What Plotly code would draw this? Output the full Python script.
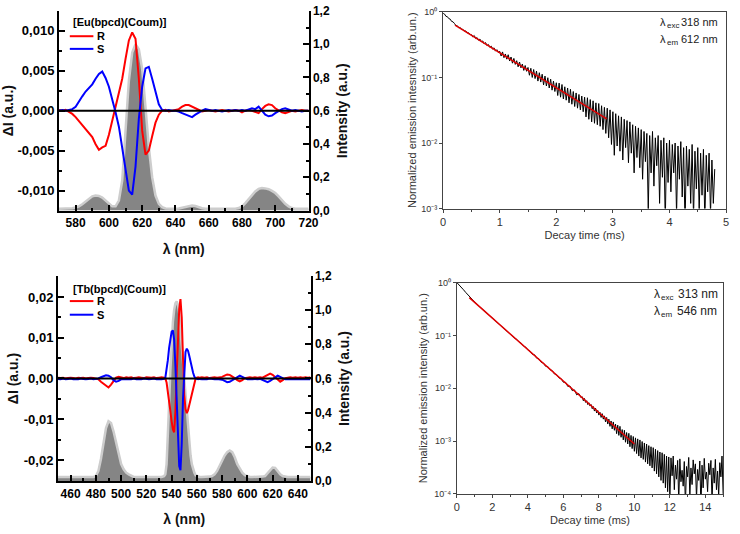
import plotly.graph_objects as go

# ---------------- Eu CPL / emission (top-left) ----------------
eu_wl = list(range(570, 722, 2))
eu_R = [0.0001, 0.0000, 0.0001, -0.0001, -0.0004, -0.0008, -0.0013, -0.0018, -0.0023, -0.0028,
        -0.0033, -0.0042, -0.0049, -0.0046, -0.0044, -0.0030, -0.0012, 0.0004, 0.0022, 0.0040,
        0.0065, 0.0088, 0.0098, 0.0090, 0.0040, -0.0025, -0.0055, -0.0050, -0.0032, -0.0015,
        -0.0005, 0.0000, 0.0001, -0.0001, 0.0000, 0.0001, 0.0002, 0.0005, 0.0007, 0.0007,
        0.0005, 0.0003, 0.0000, -0.0001, 0.0000, 0.0001, 0.0000, -0.0001, 0.0000, 0.0001,
        0.0000, -0.0001, 0.0000, 0.0001, 0.0000, -0.0002, 0.0000, 0.0001, 0.0000, -0.0002,
        -0.0003, 0.0002, 0.0006, 0.0008, 0.0007, 0.0003, 0.0000, -0.0002, -0.0003, -0.0001,
        0.0000, -0.0001, 0.0000, 0.0001, 0.0000, 0.0000]
eu_S = [0.0000, 0.0001, 0.0000, 0.0001, 0.0002, 0.0005, 0.0012, 0.0018, 0.0024, 0.0029,
        0.0033, 0.0040, 0.0046, 0.0049, 0.0041, 0.0030, 0.0015, -0.0002, -0.0020, -0.0045,
        -0.0075, -0.0100, -0.0105, -0.0070, -0.0010, 0.0030, 0.0053, 0.0055, 0.0040, 0.0022,
        0.0008, 0.0001, 0.0000, 0.0001, 0.0000, 0.0000, -0.0001, -0.0003, -0.0005, -0.0006,
        -0.0008, -0.0005, -0.0002, 0.0000, 0.0002, 0.0001, 0.0000, 0.0001, 0.0000, -0.0001,
        0.0000, 0.0001, 0.0000, 0.0001, 0.0000, 0.0001, 0.0000, 0.0002, 0.0003, 0.0002,
        0.0005, 0.0000, -0.0005, -0.0007, -0.0006, -0.0003, 0.0000, 0.0002, 0.0003, 0.0001,
        0.0000, 0.0001, 0.0000, -0.0001, 0.0000, 0.0000]
eu_em = [0.01, 0.01, 0.01, 0.012, 0.014, 0.018, 0.025, 0.038, 0.055, 0.072,
         0.085, 0.09, 0.088, 0.078, 0.06, 0.04, 0.025, 0.025, 0.06, 0.18,
         0.45, 0.78, 0.95, 1.0, 0.97, 0.85, 0.62, 0.38, 0.2, 0.09,
         0.04, 0.02, 0.012, 0.01, 0.01, 0.01, 0.012, 0.016, 0.022, 0.027,
         0.03, 0.027, 0.02, 0.014, 0.011, 0.01, 0.01, 0.01, 0.01, 0.01,
         0.01, 0.01, 0.01, 0.011, 0.015, 0.025, 0.045, 0.07, 0.095, 0.115,
         0.13, 0.135, 0.133, 0.128, 0.118, 0.105, 0.085, 0.06, 0.04, 0.025,
         0.015, 0.011, 0.01, 0.01, 0.01, 0.01]

# ---------------- Tb CPL / emission (bottom-left) ----------------
tb_wl = list(range(450, 534, 2)) + list(range(534, 563)) + list(range(564, 652, 2))
tb_R = ([0.0002, 0.0001, 0.0002, 0.0000, 0.0001, 0.0002, 0.0001, 0.0000, 0.0002, 0.0001,
         0.0002, 0.0000, 0.0001, 0.0002, 0.0001, 0.0000,
         -0.0002, -0.0008, -0.0012, -0.0018, -0.0022, -0.0015, -0.0005, 0.0002, 0.0004, 0.0002,
         0.0001, 0.0003,
         0.0002, 0.0003, 0.0001, 0.0002, 0.0003, 0.0002, 0.0001, 0.0003, 0.0002, 0.0002,
         0.0003, 0.0001, 0.0002, 0.0003]
        + [0.0002, 0.0000, -0.0010, -0.0030, -0.0055, -0.0080, -0.0105, -0.0125, -0.0132, -0.0080,
           0.0010, 0.0100, 0.0170, 0.0195, 0.0150, 0.0050, -0.0040, -0.0075, -0.0085, -0.0078,
           -0.0065, -0.0050, -0.0035, -0.0020, -0.0008, 0.0000, 0.0002, 0.0003, 0.0002]
        + [0.0003, 0.0002, 0.0003, 0.0001, 0.0002, 0.0003, 0.0002, 0.0003, 0.0004, 0.0007,
           0.0010, 0.0009, 0.0006, 0.0001, -0.0004, -0.0007, -0.0004, 0.0001, 0.0002, 0.0003,
           0.0002, 0.0003, 0.0002, 0.0003, 0.0002, 0.0005, 0.0010, 0.0012, 0.0009, 0.0003,
           -0.0003, -0.0008, -0.0004, 0.0001, 0.0002, 0.0003, 0.0002, 0.0003, 0.0002, 0.0003,
           0.0002, 0.0003, 0.0002, 0.0003])
tb_S = ([-0.0001, -0.0002, 0.0000, -0.0002, -0.0001, 0.0000, -0.0002, -0.0001, -0.0002, 0.0000,
         -0.0001, -0.0002, -0.0001, 0.0000, -0.0002, -0.0001,
         0.0000, 0.0003, 0.0006, 0.0008, 0.0007, 0.0003, -0.0004, -0.0008, -0.0006, -0.0002,
         -0.0001, -0.0002,
         -0.0001, -0.0002, 0.0000, -0.0002, -0.0001, -0.0002, 0.0000, -0.0001, -0.0002, -0.0001,
         0.0000, -0.0002, -0.0001, -0.0002]
        + [-0.0001, 0.0002, 0.0020, 0.0045, 0.0075, 0.0100, 0.0115, 0.0118, 0.0095, 0.0030,
           -0.0060, -0.0150, -0.0215, -0.0225, -0.0160, -0.0050, 0.0030, 0.0065, 0.0073, 0.0068,
           0.0055, 0.0040, 0.0026, 0.0014, 0.0005, 0.0000, -0.0001, -0.0002, -0.0001]
        + [-0.0002, -0.0001, -0.0002, 0.0000, -0.0001, -0.0002, -0.0001, -0.0002, -0.0003, -0.0006,
           -0.0009, -0.0008, -0.0004, 0.0001, 0.0005, 0.0007, 0.0004, 0.0000, -0.0002, -0.0001,
           -0.0002, -0.0001, -0.0002, -0.0001, -0.0004, -0.0008, -0.0009, -0.0006, -0.0002, 0.0003,
           0.0007, 0.0004, 0.0000, -0.0002, -0.0001, -0.0002, -0.0001, -0.0002, -0.0001, -0.0002,
           -0.0001, -0.0002, -0.0001, -0.0002])
tb_em = ([0.025, 0.025, 0.025, 0.025, 0.025, 0.025, 0.025, 0.025, 0.025, 0.025,
          0.025, 0.025, 0.025, 0.025, 0.025, 0.03,
          0.06, 0.13, 0.22, 0.31, 0.35, 0.34, 0.29, 0.22, 0.15, 0.10,
          0.07, 0.05, 0.04, 0.03, 0.025,
          0.025, 0.025, 0.025, 0.025, 0.025, 0.025, 0.025, 0.025, 0.025, 0.025, 0.025]
         + [0.03, 0.04, 0.10, 0.25, 0.45, 0.65, 0.82, 0.93, 1.00, 1.04,
            1.05, 1.03, 0.98, 0.90, 0.80, 0.70, 0.60, 0.50, 0.40, 0.30,
            0.22, 0.15, 0.10, 0.07, 0.05, 0.035, 0.03, 0.028, 0.025]
         + [0.025, 0.025, 0.025, 0.027, 0.03, 0.04, 0.06, 0.09, 0.12, 0.15,
            0.17, 0.18, 0.17, 0.14, 0.10, 0.07, 0.05, 0.035, 0.028, 0.025,
            0.025, 0.025, 0.025, 0.025, 0.027, 0.03, 0.045, 0.065, 0.08, 0.078,
            0.06, 0.04, 0.03, 0.026, 0.025, 0.025, 0.025, 0.025, 0.025, 0.025,
            0.025, 0.025, 0.025, 0.025])

# ---------------- Eu decay (top-right) ----------------
eu_t = [0.000, 0.025, 0.050, 0.075, 0.100, 0.125, 0.150, 0.175,
        0.200, 0.225, 0.250, 0.275, 0.300, 0.325, 0.350, 0.375,
        0.400, 0.425, 0.450, 0.475, 0.500, 0.525, 0.550, 0.575,
        0.600, 0.625, 0.650, 0.675, 0.700, 0.725, 0.750, 0.775,
        0.800, 0.825, 0.850, 0.875, 0.900, 0.925, 0.950, 0.975,
        1.000, 1.025, 1.050, 1.075, 1.100, 1.125, 1.150, 1.175,
        1.200, 1.225, 1.250, 1.275, 1.300, 1.325, 1.350, 1.375,
        1.400, 1.425, 1.450, 1.475, 1.500, 1.525, 1.550, 1.575,
        1.600, 1.625, 1.650, 1.675, 1.700, 1.725, 1.750, 1.775,
        1.800, 1.825, 1.850, 1.875, 1.900, 1.925, 1.950, 1.975,
        2.000, 2.025, 2.050, 2.075, 2.100, 2.125, 2.150, 2.175,
        2.200, 2.225, 2.250, 2.275, 2.300, 2.325, 2.350, 2.375,
        2.400, 2.425, 2.450, 2.475, 2.500, 2.525, 2.550, 2.575,
        2.600, 2.625, 2.650, 2.675, 2.700, 2.725, 2.750, 2.775,
        2.800, 2.825, 2.850, 2.875, 2.900, 2.925, 2.950, 2.975,
        3.000, 3.025, 3.050, 3.075, 3.100, 3.125, 3.150, 3.175,
        3.200, 3.225, 3.250, 3.275, 3.300, 3.325, 3.350, 3.375,
        3.400, 3.425, 3.450, 3.475, 3.500, 3.525, 3.550, 3.575,
        3.600, 3.625, 3.650, 3.675, 3.700, 3.725, 3.750, 3.775,
        3.800, 3.825, 3.850, 3.875, 3.900, 3.925, 3.950, 3.975,
        4.000, 4.025, 4.050, 4.075, 4.100, 4.125, 4.150, 4.175,
        4.200, 4.225, 4.250, 4.275, 4.300, 4.325, 4.350, 4.375,
        4.400, 4.425, 4.450, 4.475, 4.500, 4.525, 4.550, 4.575,
        4.600, 4.625, 4.650, 4.675, 4.700, 4.725, 4.750, 4.775,
        4.800]
eu_decay = [0.95, 0.925, 0.855, 0.845, 0.79, 0.775, 0.715, 0.705,
            0.665, 0.62, 0.615, 0.575, 0.58, 0.54, 0.542, 0.51,
            0.512, 0.478, 0.48, 0.452, 0.45, 0.415, 0.435, 0.392,
            0.405, 0.37, 0.385, 0.35, 0.36, 0.325, 0.34, 0.305,
            0.318, 0.288, 0.30, 0.27, 0.283, 0.252, 0.265, 0.24,
            0.25, 0.212, 0.245, 0.200, 0.228, 0.19, 0.222, 0.178,
            0.205, 0.165, 0.195, 0.158, 0.18, 0.145, 0.172, 0.140,
            0.16, 0.128, 0.152, 0.124, 0.142, 0.108, 0.138, 0.100,
            0.132, 0.096, 0.125, 0.088, 0.118, 0.085, 0.112, 0.077,
            0.105, 0.074, 0.099, 0.069, 0.094, 0.064, 0.088, 0.061,
            0.083, 0.053, 0.082, 0.050, 0.078, 0.047, 0.072, 0.045,
            0.069, 0.041, 0.066, 0.039, 0.061, 0.036, 0.058, 0.034,
            0.055, 0.032, 0.052, 0.030, 0.050, 0.025, 0.049, 0.023,
            0.046, 0.021, 0.044, 0.020, 0.041, 0.019, 0.040, 0.018,
            0.037, 0.016, 0.035, 0.014, 0.034, 0.012, 0.032, 0.0095,
            0.030, 0.0065, 0.028, 0.009, 0.026, 0.0075, 0.025, 0.0055,
            0.023, 0.0085, 0.022, 0.005, 0.021, 0.007, 0.019, 0.0035,
            0.018, 0.006, 0.017, 0.0042, 0.016, 0.0028, 0.015, 0.0052,
            0.014, 0.0009, 0.013, 0.0035, 0.015, 0.0022, 0.012, 0.0045,
            0.013, 0.0012, 0.011, 0.003, 0.012, 0.0006, 0.010, 0.0025,
            0.011, 0.0018, 0.0095, 0.0035, 0.010, 0.0008, 0.009, 0.0028,
            0.0105, 0.0015, 0.0085, 0.0005, 0.009, 0.0022, 0.008, 0.0012,
            0.0095, 0.0007, 0.0075, 0.002, 0.0085, 0.0009, 0.007, 0.0016,
            0.008, 0.0006, 0.0065, 0.0018, 0.007, 0.0008, 0.0055, 0.0012,
            0.004]
eu_fit_t = [0.21, 2.89]
eu_fit = [0.63, 0.0233]

# ---------------- Tb decay (bottom-right) ----------------
tb_t = [0.000, 0.125, 0.250, 0.375, 0.500, 0.625, 0.750, 0.875, 1.000, 1.125,
        1.250, 1.375, 1.500, 1.625, 1.750, 1.875, 2.000, 2.125, 2.250, 2.375,
        2.500, 2.625, 2.750, 2.875, 3.000, 3.125, 3.250, 3.375, 3.500, 3.625,
        3.750, 3.875, 4.000, 4.125, 4.250, 4.375, 4.500, 4.625, 4.750, 4.875,
        5.000, 5.125, 5.250, 5.375, 5.500, 5.625, 5.750, 5.875, 6.000, 6.125,
        6.250, 6.375, 6.500, 6.625, 6.750, 6.875, 7.000,
        7.0625, 7.125, 7.1875, 7.25, 7.3125, 7.375, 7.4375, 7.5,
        7.5625, 7.625, 7.6875, 7.75, 7.8125, 7.875, 7.9375, 8.0,
        8.0625, 8.125, 8.1875, 8.25, 8.3125, 8.375, 8.4375, 8.5,
        8.5625, 8.625, 8.6875, 8.75, 8.8125, 8.875, 8.9375, 9.0,
        9.0625, 9.125, 9.1875, 9.25, 9.3125, 9.375, 9.4375, 9.5,
        9.5625, 9.625, 9.6875, 9.75, 9.8125, 9.875, 9.9375, 10.0,
        10.0625, 10.125, 10.1875, 10.25, 10.3125, 10.375, 10.4375, 10.5,
        10.5625, 10.625, 10.6875, 10.75, 10.8125, 10.875, 10.9375, 11.0,
        11.0625, 11.125, 11.1875, 11.25, 11.3125, 11.375, 11.4375, 11.5,
        11.5625, 11.625, 11.6875, 11.75, 11.8125, 11.875, 11.9375, 12.0,
        12.0625, 12.125, 12.1875, 12.25, 12.3125, 12.375, 12.4375, 12.5,
        12.5625, 12.625, 12.6875, 12.75, 12.8125, 12.875, 12.9375, 13.0,
        13.0625, 13.125, 13.1875, 13.25, 13.3125, 13.375, 13.4375, 13.5,
        13.5625, 13.625, 13.6875, 13.75, 13.8125, 13.875, 13.9375, 14.0,
        14.0625, 14.125, 14.1875, 14.25, 14.3125, 14.375, 14.4375, 14.5,
        14.5625, 14.625, 14.6875, 14.75, 14.8125, 14.875, 14.9375, 15.0]
tb_decay = [1.0, 0.91, 0.82, 0.73, 0.65, 0.58, 0.52, 0.47, 0.43, 0.39,
            0.357, 0.327, 0.300, 0.276, 0.252, 0.233, 0.212, 0.196, 0.178, 0.165,
            0.150, 0.139, 0.126, 0.118, 0.106, 0.099, 0.089, 0.084, 0.075, 0.071,
            0.063, 0.060, 0.053, 0.050, 0.044, 0.043, 0.037, 0.036, 0.031, 0.030,
            0.026, 0.0256, 0.0224, 0.0215, 0.0186, 0.0180, 0.0157, 0.0152, 0.0130, 0.0129,
            0.0108, 0.0110, 0.0090, 0.0093, 0.0075, 0.0079, 0.0066,
            0.0069, 0.0058, 0.0064, 0.0054, 0.0058, 0.0049, 0.0053, 0.0046,
            0.0049, 0.0041, 0.0045, 0.0037, 0.0042, 0.0034, 0.0038, 0.0031,
            0.0035, 0.0028, 0.0033, 0.0026, 0.0030, 0.0023, 0.0028, 0.0021,
            0.0026, 0.0019, 0.0024, 0.0017, 0.0023, 0.0016, 0.0021, 0.00138,
            0.0020, 0.00128, 0.0019, 0.00118, 0.00165, 0.00105, 0.0016, 0.00095,
            0.00145, 0.00088, 0.0014, 0.00078, 0.00128, 0.00072, 0.00122, 0.00064,
            0.00115, 0.00058, 0.0011, 0.00052, 0.00105, 0.00048, 0.00098, 0.00045,
            0.00092, 0.0004, 0.00088, 0.00037, 0.00082, 0.00034, 0.00078, 0.00031,
            0.00075, 0.00027, 0.0007, 0.00024, 0.00066, 0.00021, 0.00062, 0.00018,
            0.0006, 0.00016, 0.00056, 0.00013, 0.00052, 0.00011, 0.0005, 0.00008,
            0.00048, 0.00022, 0.00052, 0.00012, 0.00035, 0.00019, 0.00043, 0.00007,
            0.00046, 0.00017, 0.00028, 0.00014, 0.00041, 0.00006, 0.00033, 0.00021,
            0.00049, 0.00009, 0.00031, 0.00015, 0.00044, 0.00024, 0.00037, 0.00008,
            0.00029, 0.00018, 0.00042, 0.00005, 0.00035, 0.00013, 0.00047, 0.00019,
            0.00026, 0.00011, 0.00038, 0.00023, 0.00043, 0.00007, 0.00031, 0.00016,
            0.00045, 0.00012, 0.00027, 0.00009, 0.00039, 0.00021, 0.00052, 0.0001]
tb_fit_t = [0.70, 10.0]
tb_fit = [0.52, 0.00088]

# tick labels
eu_cpl_ticks = [-0.010, -0.005, 0.0, 0.005, 0.010]
eu_cpl_text = ["-0,010", "-0,005", "0,000", "0,005", "0,010"]
tb_cpl_ticks = [-0.02, -0.01, 0.0, 0.01, 0.02]
tb_cpl_text = ["-0,02", "-0,01", "0,00", "0,01", "0,02"]
int_ticks = [0.0, 0.2, 0.4, 0.6, 0.8, 1.0, 1.2]
int_text = ["0,0", "0,2", "0,4", "0,6", "0,8", "1,0", "1,2"]
eu_time_ticks = [0, 1, 2, 3, 4, 5]
tb_time_ticks = [0, 2, 4, 6, 8, 10, 12, 14]
log_ticks3 = [0.001, 0.01, 0.1, 1]
log_text3 = ["10⁻³", "10⁻²", "10⁻¹", "10⁰"]
log_ticks4 = [0.0001, 0.001, 0.01, 0.1, 1]
log_text4 = ["10⁻⁴", "10⁻³", "10⁻²", "10⁻¹", "10⁰"]

# excitation / emission labels: (symbol, subscript, value)
eu_labels = [("λ", "exc", "318 nm"), ("λ", "em", "612 nm")]
tb_labels = [("λ", "exc", "313 nm"), ("λ", "em", "546 nm")]

RED = "#ff0000"
BLUE = "#0000ff"
FB = "Liberation Sans"
bold = dict(family=FB, size=12, color="black", weight="bold")
bold13 = dict(family=FB, size=13, color="black", weight="bold")
title_bold = dict(family=FB, size=14, color="#111", weight="bold")

fig = go.Figure()

# emission fills (base axes)
fig.add_trace(go.Scatter(x=eu_wl, y=eu_em, xaxis="x", yaxis="y", mode="lines",
                         line=dict(color="#cdcdcd", width=2.5), fill="tozeroy",
                         fillcolor="#858585", showlegend=False, hoverinfo="skip"))
fig.add_trace(go.Scatter(x=tb_wl, y=tb_em, xaxis="x2", yaxis="y3", mode="lines",
                         line=dict(color="#cdcdcd", width=2.5), fill="tozeroy",
                         fillcolor="#858585", showlegend=False, hoverinfo="skip"))
# CPL lines (overlay axes)
fig.add_trace(go.Scatter(x=eu_wl, y=eu_R, xaxis="x", yaxis="y2", mode="lines", name="R",
                         line=dict(color=RED, width=2), showlegend=False))
fig.add_trace(go.Scatter(x=eu_wl, y=eu_S, xaxis="x", yaxis="y2", mode="lines", name="S",
                         line=dict(color=BLUE, width=2), showlegend=False))
fig.add_trace(go.Scatter(x=tb_wl, y=tb_R, xaxis="x2", yaxis="y4", mode="lines", name="R",
                         line=dict(color=RED, width=2), showlegend=False))
fig.add_trace(go.Scatter(x=tb_wl, y=tb_S, xaxis="x2", yaxis="y4", mode="lines", name="S",
                         line=dict(color=BLUE, width=2), showlegend=False))
# decays
fig.add_trace(go.Scatter(x=eu_t, y=eu_decay, xaxis="x3", yaxis="y5", mode="lines",
                         line=dict(color="black", width=1), showlegend=False))
fig.add_trace(go.Scatter(x=eu_fit_t, y=eu_fit, xaxis="x3", yaxis="y5", mode="lines",
                         line=dict(color="#e00000", width=1.5), showlegend=False))
fig.add_trace(go.Scatter(x=tb_t, y=tb_decay, xaxis="x4", yaxis="y6", mode="lines",
                         line=dict(color="black", width=1), showlegend=False))
fig.add_trace(go.Scatter(x=tb_fit_t, y=tb_fit, xaxis="x4", yaxis="y6", mode="lines",
                         line=dict(color="#e00000", width=1.5), showlegend=False))

W, H = 740, 534
def px_x(a, b):
    return [a / W, b / W]
def px_y(top, bottom):
    return [1 - bottom / H, 1 - top / H]
def PX(x):
    return x / W
def PY(y):
    return 1 - y / H

left_axis = dict(showline=True, linewidth=2, linecolor="black", ticks="inside", ticklen=6,
                 tickwidth=1.5, tickcolor="black", tickfont=bold, showgrid=False, zeroline=False)
mk_minor = lambda d, t0: dict(ticks="inside", ticklen=3, tickwidth=1.5, tickcolor="black", dtick=d, tick0=t0)
right_font_t = dict(family=FB, size=11, color="#333333")
right_font_y = dict(family=FB, size=9, color="#333333")
right_title = dict(family=FB, size=11, color="#333333")
right_axis = dict(showline=True, mirror=True, linecolor="#444444", linewidth=1, ticks="outside",
                  ticklen=3, tickcolor="#444444", showgrid=False, zeroline=False)

fig.update_layout(
    width=W, height=H, margin=dict(l=0, r=0, t=0, b=0),
    paper_bgcolor="white", plot_bgcolor="white",
    showlegend=False,
    xaxis=dict(left_axis, domain=px_x(57, 311), anchor="y", range=[570, 720],
               tickmode="linear", tick0=580, dtick=20, minor=mk_minor(10, 570),
               title=dict(text="λ (nm)", font=title_bold, standoff=15)),
    yaxis=dict(left_axis, domain=px_y(4, 209), anchor="x", side="right", range=[0, 1.2],
               tickmode="array", tickvals=int_ticks, ticktext=int_text, minor=mk_minor(0.1, 0),
               title=dict(text="Intensity (a.u.)", font=title_bold, standoff=8)),
    yaxis2=dict(left_axis, overlaying="y", anchor="x", side="left", range=[-0.0125, 0.0125],
                tickmode="array", tickvals=eu_cpl_ticks, ticktext=eu_cpl_text, minor=mk_minor(0.0025, 0),
                tickfont=bold13, title=dict(text="ΔI (a.u.)", font=title_bold, standoff=2)),
    xaxis2=dict(left_axis, domain=px_x(56, 313), anchor="y3", range=[450, 650],
                tickmode="linear", tick0=460, dtick=20, minor=mk_minor(10, 450),
                title=dict(text="λ (nm)", font=title_bold, standoff=15)),
    yaxis3=dict(left_axis, domain=px_y(276, 487), anchor="x2", side="right", range=[0, 1.2],
                tickmode="array", tickvals=int_ticks, ticktext=int_text, minor=mk_minor(0.1, 0),
                title=dict(text="Intensity (a.u.)", font=title_bold, standoff=8)),
    yaxis4=dict(left_axis, overlaying="y3", anchor="x2", side="left", range=[-0.0252, 0.0252],
                tickmode="array", tickvals=tb_cpl_ticks, ticktext=tb_cpl_text, minor=mk_minor(0.005, 0),
                tickfont=bold13, title=dict(text="ΔI (a.u.)", font=title_bold, standoff=2)),
    xaxis3=dict(right_axis, domain=px_x(448, 736), anchor="y5", range=[0, 5],
                tickmode="array", tickvals=eu_time_ticks, tickfont=right_font_t,
                ticklabeloverflow="allow",
                minor=dict(ticks="outside", ticklen=2, tickcolor="#444444", dtick=0.5, tick0=0),
                title=dict(text="Decay time (ms)", font=right_title, standoff=4)),
    yaxis5=dict(right_axis, domain=px_y(5, 207), anchor="x3", type="log", range=[-3, 0],
                tickmode="array", tickvals=log_ticks3, ticktext=log_text3, tickfont=right_font_y,
                title=dict(text="Normalized emission intesnsity (arb.un.)", font=right_title, standoff=2)),
    xaxis4=dict(right_axis, domain=px_x(462, 733), anchor="y6", range=[0, 15],
                tickmode="array", tickvals=tb_time_ticks, tickfont=right_font_t,
                minor=dict(ticks="outside", ticklen=2, tickcolor="#444444", dtick=1, tick0=0),
                title=dict(text="Decay time (ms)", font=right_title, standoff=4)),
    yaxis6=dict(right_axis, domain=px_y(283, 500), anchor="x4", type="log", range=[-4, 0],
                tickmode="array", tickvals=log_ticks4, ticktext=log_text4, tickfont=right_font_y,
                title=dict(text="Normalized emission intensity (arb.un.)", font=right_title, standoff=4)),
)

# zero reference lines of the CPL axes
fig.add_shape(type="line", xref="x domain", yref="y2", x0=0, x1=1, y0=0, y1=0,
              line=dict(color="black", width=2), layer="above")
fig.add_shape(type="line", xref="x2 domain", yref="y4", x0=0, x1=1, y0=0, y1=0,
              line=dict(color="black", width=2), layer="above")

# legends (compound name + line keys)
leg_font = dict(family=FB, size=11, color="black", weight="bold")
legend_specs = [("[Eu(bpcd)(Coum)]", 15, 30, 43), ("[Tb(bpcd)(Coum)]", 290, 302, 316)]
for title, ty, ry, sy in legend_specs:
    fig.add_annotation(text=title, x=PX(69), y=PY(ty), xref="paper", yref="paper",
                       xanchor="left", yanchor="middle", showarrow=False, font=leg_font)
    for lab, yy, col in (("R", ry, RED), ("S", sy, BLUE)):
        fig.add_shape(type="line", xref="paper", yref="paper", x0=PX(68), x1=PX(92),
                      y0=PY(yy), y1=PY(yy), line=dict(color=col, width=2))
        fig.add_annotation(text=lab, x=PX(94), y=PY(yy), xref="paper", yref="paper",
                           xanchor="left", yanchor="middle", showarrow=False, font=leg_font)

# excitation / emission wavelength labels (symbol, small subscript, value)
def add_lambda_label(parts, x_sym, x_end, y_mid, size):
    sym, sub, val = parts
    main = dict(family=FB, size=size, color="#222222")
    small = dict(family=FB, size=8, color="#222222")
    fig.add_annotation(text=sym, x=PX(x_sym), y=PY(y_mid), xref="paper", yref="paper",
                       xanchor="left", yanchor="middle", showarrow=False, font=main,
                       borderpad=0)
    fig.add_annotation(text=sub, x=PX(x_sym + 6.5), y=PY(y_mid + 3.5), xref="paper", yref="paper",
                       xanchor="left", yanchor="middle", showarrow=False, font=small,
                       borderpad=0)
    fig.add_annotation(text=val, x=PX(x_end), y=PY(y_mid), xref="paper", yref="paper",
                       xanchor="right", yanchor="middle", showarrow=False, font=main,
                       borderpad=0)

add_lambda_label(eu_labels[0], 668, 729, 15, 11)
add_lambda_label(eu_labels[1], 668, 729, 33, 11)
add_lambda_label(tb_labels[0], 662, 729, 295, 12)
add_lambda_label(tb_labels[1], 662, 728, 312, 12)

fig.write_html("out.html", config={"displayModeBar": False},
               post_script="document.body.style.margin='0px';document.body.style.padding='0px';")
